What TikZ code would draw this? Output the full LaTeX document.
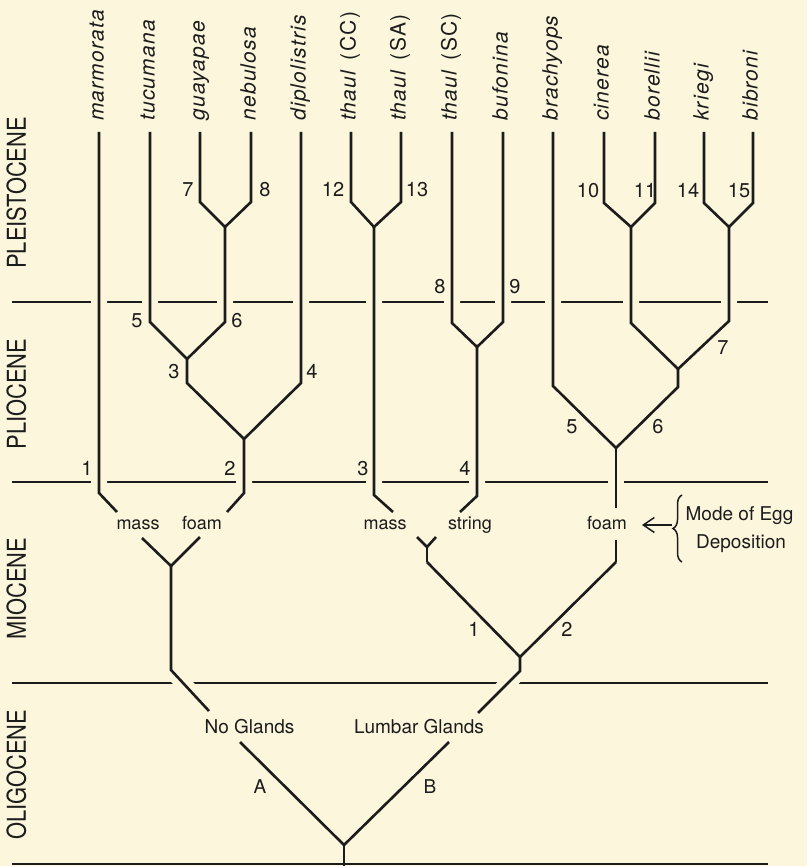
\documentclass[tikz,border=0pt]{standalone}
\usepackage{fontspec}
\usepackage{graphicx}
\setmainfont{TeX Gyre Heros}
\usetikzlibrary{arrows.meta,decorations.pathreplacing}
\definecolor{bg}{RGB}{251,246,220}
\definecolor{ink}{RGB}{28,28,28}
\newcommand\epochtext[1]{\scalebox{0.84}[1]{\fontsize{26}{26}\selectfont #1}}
\begin{document}
\begin{tikzpicture}[x=1pt,y=-1pt,
 era/.style={draw=ink, line width=1.5pt},
 branch/.style={draw=ink, line width=2.6pt, line join=miter},
 halo/.style={draw=bg, line width=16pt, line join=round},
 taxon/.style={rotate=90, anchor=mid west, inner sep=0pt, font=\fontsize{21}{21}\selectfont\itshape\addfontfeature{LetterSpace=6}, text=ink},
 epoch/.style={rotate=90, anchor=center, inner sep=0pt, text=ink},
 num/.style={anchor=base, inner sep=0pt, font=\fontsize{20}{20}\selectfont, text=ink},
 mode/.style={anchor=base, inner sep=0pt, font=\fontsize{18}{18}\selectfont, text=ink},
 gland/.style={anchor=base, inner sep=0pt, font=\fontsize{19}{19}\selectfont, text=ink},
]
\fill[bg] (0,0) rectangle (807,866);
\useasboundingbox (0,0) rectangle (807,866);

% epoch boundaries
\coordinate (l1a) at (12,302); \coordinate (l1b) at (768,302);
\coordinate (l2a) at (12,482); \coordinate (l2b) at (768,482);
\coordinate (l3a) at (12,683); \coordinate (l3b) at (768,683);
\coordinate (l4a) at (12,864); \coordinate (l4b) at (768,864);
\draw[era] (l1a) -- (l1b);
\draw[era] (l2a) -- (l2b);
\draw[era] (l3a) -- (l3b);
\draw[era] (l4a) -- (l4b);

% taxon tips
\coordinate (t1) at (99,132);  \coordinate (t2) at (150,132);
\coordinate (t3) at (200,132); \coordinate (t4) at (251,132);
\coordinate (t5) at (301,132); \coordinate (t6) at (351,132);
\coordinate (t7) at (401,132); \coordinate (t8) at (452,132);
\coordinate (t9) at (503,132); \coordinate (t10) at (553,132);
\coordinate (t11) at (604,132); \coordinate (t12) at (655,132);
\coordinate (t13) at (704,132); \coordinate (t14) at (753,132);

% left clade
\coordinate (mA) at (99,493);  \coordinate (mB) at (117,512);
\coordinate (tu1) at (150,322); \coordinate (g1) at (200,202);
\coordinate (n1) at (251,202);  \coordinate (gn) at (225,227);
\coordinate (gn2) at (225,322); \coordinate (tn) at (187,359);
\coordinate (tn2) at (187,383); \coordinate (df) at (244,439);
\coordinate (d1) at (301,383);  \coordinate (df2) at (244,493);
\coordinate (df3) at (227,512);
\coordinate (lmL) at (142,538); \coordinate (lmR) at (200,537);
\coordinate (lm) at (171,566);  \coordinate (lm2) at (171,670);
\coordinate (lm3) at (209,711);
% root
\coordinate (A1) at (240,742); \coordinate (root) at (344,845);
\coordinate (rootb) at (344,866); \coordinate (B1) at (449,742);
\coordinate (B2) at (478,713); \coordinate (B3) at (520,671);
\coordinate (mid) at (520,657); \coordinate (midL) at (427,562);
\coordinate (midR) at (616,562); \coordinate (midL2) at (427,547);
\coordinate (midLa) at (417,537); \coordinate (midLb) at (436,537);
\coordinate (midR2) at (616,540);
% thaul mass
\coordinate (th1) at (351,202); \coordinate (th2) at (401,202);
\coordinate (th) at (374,227);  \coordinate (th3) at (374,495);
\coordinate (th4) at (393,512);
% string
\coordinate (sc1) at (452,323); \coordinate (bu1) at (503,322);
\coordinate (sb) at (477,347);  \coordinate (sb2) at (477,496);
\coordinate (sb3) at (460,512);
% foam right
\coordinate (br1) at (553,386); \coordinate (fo) at (616,448);
\coordinate (fo2) at (616,508); \coordinate (cr) at (678,387);
\coordinate (cr2) at (678,369); \coordinate (ci) at (631,323);
\coordinate (ci2) at (631,227); \coordinate (ki) at (729,321);
\coordinate (ki2) at (729,227); \coordinate (c1) at (604,203);
\coordinate (b1) at (655,203);  \coordinate (k1) at (704,203);
\coordinate (bi1) at (753,203);

\newcommand\treepaths[1]{%
 \draw[#1] (t1) -- (mA) -- (mB);
 \draw[#1] (t2) -- (tu1) -- (tn) -- (tn2) -- (df);
 \draw[#1] (t3) -- (g1) -- (gn) -- (n1) -- (t4);
 \draw[#1] (gn) -- (gn2) -- (tn);
 \draw[#1] (t5) -- (d1) -- (df) -- (df2) -- (df3);
 \draw[#1] (lmL) -- (lm) -- (lmR);
 \draw[#1] (lm) -- (lm2) -- (lm3);
 \draw[#1] (A1) -- (root) -- (B1);
 \draw[#1] (B2) -- (B3) -- (mid);
 \draw[#1] (midL) -- (mid) -- (midR);
 \draw[#1] (midLa) -- (midL2) -- (midLb);
 \draw[#1] (midL2) -- (midL);
 \draw[#1] (midR) -- (midR2);
 \draw[#1] (t6) -- (th1) -- (th) -- (th2) -- (t7);
 \draw[#1] (th) -- (th3) -- (th4);
 \draw[#1] (t8) -- (sc1) -- (sb) -- (bu1) -- (t9);
 \draw[#1] (sb) -- (sb2) -- (sb3);
 \draw[#1] (t10) -- (br1) -- (fo) -- (cr) -- (cr2);
 \draw[#1] (fo) -- (fo2);
 \draw[#1] (cr2) -- (ci) -- (ci2);
 \draw[#1] (cr2) -- (ki) -- (ki2);
 \draw[#1] (t11) -- (c1) -- (ci2) -- (b1) -- (t12);
 \draw[#1] (t13) -- (k1) -- (ki2) -- (bi1) -- (t14);
}
\treepaths{halo}
\treepaths{branch}
\draw[branch] (root) -- (rootb);

% taxon labels
\node[taxon] (n1l) at (101,121) {marmorata};
\node[taxon] (n2l) at (152,121) {tucumana};
\node[taxon] (n3l) at (202,121) {guayapae};
\node[taxon] (n4l) at (253,121) {nebulosa};
\node[taxon] (n5l) at (303,121) {diplolistris};
\node[taxon] (n6l) at (353,121) {thaul\hspace{0.5em}\upshape(CC)};
\node[taxon] (n7l) at (403,121) {thaul\hspace{0.5em}\upshape(SA)};
\node[taxon] (n8l) at (454,121) {thaul\hspace{0.5em}\upshape(SC)};
\node[taxon] (n9l) at (505,121) {bufonina};
\node[taxon] (n10l) at (555,121) {brachyops};
\node[taxon] (n11l) at (606,121) {cinerea};
\node[taxon] (n12l) at (657,121) {borellii};
\node[taxon] (n13l) at (706,121) {kriegi};
\node[taxon] (n14l) at (755,121) {bibroni};

% epochs
\node[epoch] (e1) at (16.5,193) {\epochtext{PLEISTOCENE}};
\node[epoch] (e2) at (16.5,394) {\epochtext{PLIOCENE}};
\node[epoch] (e3) at (16.5,589) {\epochtext{MIOCENE}};
\node[epoch] (e4) at (16.5,775) {\epochtext{OLIGOCENE}};

% branch numbers
\node[num] (b01) at (87,475) {1};
\node[num] (b02) at (230,475) {2};
\node[num] (b03) at (363,475) {3};
\node[num] (b04) at (465,475) {4};
\node[num] (b05) at (174,378) {3};
\node[num] (b06) at (312,378) {4};
\node[num] (b07) at (137,327) {5};
\node[num] (b08) at (237,327) {6};
\node[num] (b09) at (188,197) {7};
\node[num] (b10) at (265,197) {8};
\node[num] (b11) at (333,197) {12};
\node[num] (b12) at (417,197) {13};
\node[num] (b13) at (440,293) {8};
\node[num] (b14) at (515,293) {9};
\node[num] (b15) at (588,198) {10};
\node[num] (b16) at (645,198) {11};
\node[num] (b17) at (688,198) {14};
\node[num] (b18) at (739,198) {15};
\node[num] (b19) at (572,433) {5};
\node[num] (b20) at (658,433) {6};
\node[num] (b21) at (723,354) {7};
\node[num] (b22) at (474,636) {1};
\node[num] (b23) at (567,636) {2};

% egg deposition modes
\node[mode] (m1) at (138,529) {mass};
\node[mode] (m2) at (202,529) {foam};
\node[mode] (m3) at (385,529) {mass};
\node[mode] (m4) at (470,529) {string};
\node[mode] (m5) at (607,529) {foam};

% glands
\node[gland] (g01) at (249.5,733) {No Glands};
\node[gland] (g02) at (419,733) {Lumbar Glands};
\node[gland] (gA) at (260,793) {A};
\node[gland] (gB) at (430,793) {B};

% legend
\coordinate (brtop) at (682,495);
\coordinate (brbot) at (682,562);
\coordinate (btip) at (672,525);
\coordinate (aend) at (642,525);
\draw[draw=ink, line width=1.5pt, decorate, decoration={brace, amplitude=9pt}] (brbot) -- (brtop);
\draw[draw=ink, line width=1.5pt, -{Straight Barb[length=11pt,width=15pt]}] (btip) -- (aend);
\node[gland] (leg1) at (739.5,520) {Mode of Egg};
\node[gland] (leg2) at (741,548) {Deposition};
\end{tikzpicture}
\end{document}
